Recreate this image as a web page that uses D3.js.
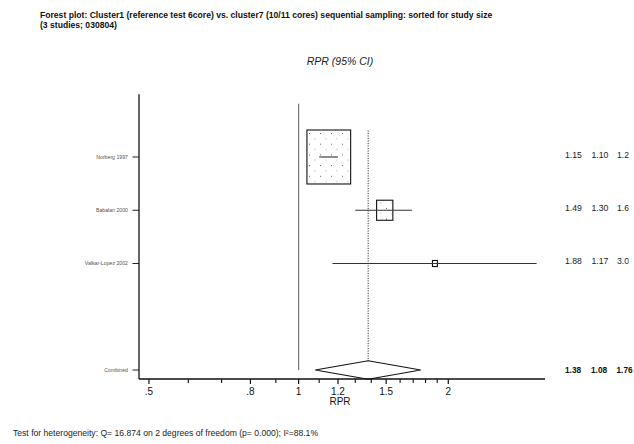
<!DOCTYPE html>
<html>
<head>
<meta charset="utf-8">
<script src="https://cdn.jsdelivr.net/npm/d3@7"></script>
<style>
  html, body { margin: 0; padding: 0; background: #fff; }
  svg { display: block; font-family: Arial, "Liberation Sans", sans-serif; }
</style>
</head>
<body>
<svg id="chart" width="634" height="444"></svg>
<script>
// Study estimates (relative prevalence ratio with 95% CI)
const studies = ["Norberg 1997", "Babalan 2000", "Valkar-Lopez 2002"];
const estimates = [1.15, 1.49, 1.88];
const lower = [1.10, 1.30, 1.17];
const upper = [1.20, 1.69, 3.01];
const weights = [86.9, 12.0, 1.1];

// Pooled estimate
const pooledLabel = "Combined";
const pooled = [1.38, 1.08, 1.76];

// Axis ticks
const majorTicks = [0.5, 0.8, 1, 1.2, 1.5, 2];
const majorTickLabels = [".5", ".8", "1", "1.2", "1.5", "2"];
const minorTicks = [0.6, 0.7, 0.9, 1.1, 1.3, 1.4, 1.6, 1.7, 1.8, 1.9];

const titleLines = [
  "Forest plot: Cluster1 (reference test 6core) vs. cluster7 (10/11 cores) sequential sampling: sorted for study size",
  "(3 studies; 030804)"
];
const footnote = "Test for heterogeneity: Q= 16.874 on 2 degrees of freedom (p= 0.000); I\u00b2=88.1%";

const svg = d3.select("#chart");

// Log scale for RPR across the plotting panel
const x = d3.scaleLog().domain([0.4775, 3.13]).range([139, 545]);
// Row positions (combined row leaves one blank row)
const y = d3.scaleLinear().domain([0, 4]).range([157, 370]);
const rowIdx = [0, 1, 2];
const pooledIdx = 4;
const axisY = 379;

// Box size from study weight
const side = d3.scaleSqrt().domain([0, 100]).range([0, 57.9]);

const defs = svg.append("defs");
// Stipple fill for the study boxes
const pat = defs.append("pattern")
  .attr("id", "stipple")
  .attr("patternUnits", "userSpaceOnUse")
  .attr("width", 11).attr("height", 10.7)
  .attr("x", 309).attr("y", 133);
pat.append("rect").attr("x", 0).attr("y", 0).attr("width", 1).attr("height", 1).attr("fill", "#666");
pat.append("rect").attr("x", 5.5).attr("y", 5.3).attr("width", 0.8).attr("height", 1).attr("fill", "#888");
// The study value columns are cut at the page edge
defs.append("clipPath").attr("id", "valclip")
  .append("rect").attr("x", 0).attr("y", 0).attr("width", 628.8).attr("height", 444);

// Title
svg.append("g").selectAll("text").data(titleLines).join("text")
  .attr("x", 40).attr("y", (d, i) => 18 + i * 10)
  .attr("font-size", 8.6).attr("font-weight", "bold").attr("fill", "#111")
  .text(d => d);

svg.append("text")
  .attr("x", 340).attr("y", 65)
  .attr("text-anchor", "middle")
  .attr("font-size", 10.5).attr("font-style", "italic").attr("fill", "#222")
  .text("RPR (95% CI)");

// Left frame line and bottom axis line
svg.append("line")
  .attr("x1", x(0.4775)).attr("x2", x(0.4775))
  .attr("y1", y(-1.18)).attr("y2", axisY)
  .attr("stroke", "#111").attr("stroke-width", 1.3);
svg.append("line")
  .attr("x1", x(0.4775)).attr("x2", x(3.13))
  .attr("y1", axisY).attr("y2", axisY)
  .attr("stroke", "#111").attr("stroke-width", 1.3);

// No-effect line at 1
svg.append("line")
  .attr("x1", x(1)).attr("x2", x(1))
  .attr("y1", y(-1)).attr("y2", y(pooledIdx))
  .attr("stroke", "#777").attr("stroke-width", 1.2);

// Pooled estimate dotted line
svg.append("line")
  .attr("x1", x(pooled[0])).attr("x2", x(pooled[0]))
  .attr("y1", y(-0.5)).attr("y2", y(pooledIdx) - 9)
  .attr("stroke", "#333").attr("stroke-width", 1)
  .attr("stroke-dasharray", "1.2,1.3");

// Axis ticks
const ticksG = svg.append("g");
ticksG.selectAll("line.major").data(majorTicks).join("line")
  .attr("class", "major")
  .attr("x1", d => x(d)).attr("x2", d => x(d))
  .attr("y1", axisY).attr("y2", axisY + 5)
  .attr("stroke", "#111").attr("stroke-width", 1.2);
ticksG.selectAll("line.minor").data(minorTicks).join("line")
  .attr("class", "minor")
  .attr("x1", d => x(d)).attr("x2", d => x(d))
  .attr("y1", axisY).attr("y2", axisY + 4)
  .attr("stroke", "#111").attr("stroke-width", 1.1);
ticksG.selectAll("text").data(majorTicks).join("text")
  .attr("x", d => x(d)).attr("y", axisY + 16)
  .attr("text-anchor", "middle")
  .attr("font-size", 10).attr("fill", "#111")
  .text((d, i) => majorTickLabels[i]);
svg.append("text")
  .attr("x", 340).attr("y", axisY + 26)
  .attr("text-anchor", "middle")
  .attr("font-size", 10).attr("fill", "#111")
  .text("RPR");

// Row labels with small ticks on the left frame
const labels = studies.map((s, i) => ({ name: s, r: rowIdx[i] }))
  .concat([{ name: pooledLabel, r: pooledIdx }]);
const lab = svg.append("g");
lab.selectAll("text").data(labels).join("text")
  .attr("x", 128).attr("y", d => y(d.r) + 1.8)
  .attr("text-anchor", "end")
  .attr("font-size", 5.2).attr("fill", "#555")
  .text(d => d.name);
lab.selectAll("line").data(labels).join("line")
  .attr("x1", 132.5).attr("x2", x(0.4775))
  .attr("y1", d => y(d.r)).attr("y2", d => y(d.r))
  .attr("stroke", "#222").attr("stroke-width", 1);

// Study boxes and confidence intervals
const rows = studies.map((s, i) => ({
  est: estimates[i], lo: lower[i], hi: upper[i], w: weights[i], r: rowIdx[i]
}));
const sg = svg.append("g");
sg.selectAll("rect").data(rows).join("rect")
  .attr("x", d => x(d.est) - side(d.w) * 0.405)
  .attr("y", d => y(d.r) - side(d.w) / 2)
  .attr("width", d => side(d.w) * 0.81)
  .attr("height", d => side(d.w))
  .attr("fill", "url(#stipple)")
  .attr("stroke", "#111").attr("stroke-width", 1.1);
sg.selectAll("line").data(rows).join("line")
  .attr("x1", d => x(d.lo)).attr("x2", d => x(d.hi))
  .attr("y1", d => y(d.r)).attr("y2", d => y(d.r))
  .attr("stroke", "#333").attr("stroke-width", 1.1);

// Combined diamond
const cy = y(pooledIdx), halfH = 9.3;
svg.append("path")
  .attr("d", `M${x(pooled[1])},${cy} L${x(pooled[0])},${cy - halfH} L${x(pooled[2])},${cy} L${x(pooled[0])},${cy + halfH} Z`)
  .attr("fill", "none").attr("stroke", "#111").attr("stroke-width", 1.1);

// Right-hand value columns
const colX = [565, 591.5, 617];
const vals = svg.append("g").attr("clip-path", "url(#valclip)");
rows.forEach((d, i) => {
  [d.est, d.lo, d.hi].forEach((v, j) => {
    vals.append("text")
      .attr("x", colX[j]).attr("y", y(d.r) + 0.5)
      .attr("font-size", 8.7).attr("fill", "#222")
      .text(v.toFixed(2));
  });
});
const pv = svg.append("g");
pooled.forEach((v, j) => {
  pv.append("text")
    .attr("x", colX[j] - (j === 0 ? 0 : 0.5)).attr("y", y(pooledIdx) + 3)
    .attr("font-size", 8.3).attr("font-weight", "bold").attr("fill", "#111")
    .text(v.toFixed(2));
});

// Heterogeneity footnote
svg.append("text")
  .attr("x", 13).attr("y", 436)
  .attr("font-size", 8.6).attr("fill", "#222")
  .text(footnote);
</script>
</body>
</html>
